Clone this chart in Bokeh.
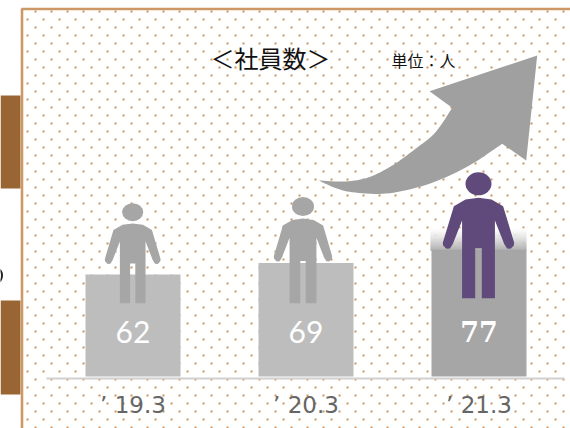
from bokeh.plotting import figure
from bokeh.models import Range1d, FixedTicker, Label
from bokeh.core.properties import value
from bokeh.embed import file_html
from bokeh.resources import INLINE
import numpy as np

# ---- data ----
periods = ["’ 19.3", "’ 20.3", "’ 21.3"]
staff = [62, 69, 77]
bar_colors = ["#bdbdbd", "#bdbdbd", "#a6a6a6"]
value_colors = ["#ffffff", "#ffffff", "#ffffff"]
title_text = "＜社員数＞"
unit_text = "単位：人"

# ---- page geometry: window pixel coordinates for the decoration ----
W, H = 570, 428
PX_L, PX_R, PX_T, PX_B = 0, 570, 0, 428
BASE_Y, PX_PER_PERSON = 376, 1.645
CENTER0, STEP, BAR_W = 132.5, 173, 95
xi = list(range(len(staff)))

p = figure(width=W, height=H, output_backend="svg", toolbar_location=None,
           x_range=Range1d((PX_L - CENTER0) / STEP, (PX_R - CENTER0) / STEP),
           y_range=Range1d((BASE_Y - PX_B) / PX_PER_PERSON, (BASE_Y - PX_T) / PX_PER_PERSON),
           min_border=0, outline_line_color=None, background_fill_color="white",
           border_fill_color="white")
p.extra_x_ranges["px"] = Range1d(PX_L, PX_R)
p.extra_y_ranges["px"] = Range1d(PX_B, PX_T)
PX = dict(x_range_name="px", y_range_name="px")
p.grid.visible = False
p.yaxis.visible = False

# left tabs and the clipped dark mark beside them
p.quad(left=[0, 0], right=[20, 20], top=[95, 300], bottom=[188, 394],
       fill_color="#996633", line_color=None, **PX)
p.ellipse(x=[-3], y=[275], width=9, height=13, fill_color=None, line_color="#222222",
          line_width=2, **PX)

# dotted paper
dx, dy = [], []
for k, y in enumerate(np.arange(11, 429, 8)):
    xs = np.arange(35 if k % 2 == 0 else 27, 570, 16)
    dx += list(xs)
    dy += [y] * len(xs)
p.rect(x=dx, y=dy, width=2, height=2, fill_color="#c8955c", line_color=None, **PX)

# frame
p.line(x=[21.5, 21.5, 570], y=[430, 8.5, 8.5], line_color="#cc9966", line_width=2.6, **PX)

# fade above the third bar
steps = 22
fade_top = 228
for i in range(steps):
    t = (i + 1) / steps
    g = int(255 - (255 - 166) * t ** 1.3)
    p.quad(left=[430], right=[526], top=[fade_top + i], bottom=[fade_top + i + 1.2],
           fill_color=f"#{g:02x}{g:02x}{g:02x}", line_color=None, **PX)

# bars
p.vbar(x=xi, top=staff, bottom=0, width=BAR_W / STEP, fill_color=bar_colors, line_color=None)

# axis (baseline with period labels)
ax = p.xaxis[0]
ax.fixed_location = -1
ax.bounds = ((46 - CENTER0) / STEP, (564 - CENTER0) / STEP)
ax.ticker = FixedTicker(ticks=xi)
ax.major_label_overrides = {i: s for i, s in zip(xi, periods)}
ax.major_tick_line_color = None
ax.minor_tick_line_color = None
ax.axis_line_color = "#d0d0d0"
ax.axis_line_width = 2
ax.major_label_text_font = "DejaVu Sans"
ax.major_label_text_font_size = "23px"
ax.major_label_text_color = "#666666"
ax.major_label_standoff = 8

# person silhouettes
half = [(0, 0), (-.364, .017), (-.69, .083), (-1.0, .447), (-.99, .475), (-.90, .508),
        (-.80, .505), (-.72, .46), (-.46, .226), (-.46, 1), (-.093, 1), (-.093, .502)]
outline = half + [(-a, b) for a, b in reversed(half)][:-1]
ox = np.array([a for a, b in outline])
oy = np.array([b for a, b in outline])
persons = [  # cx, body top, body bottom, half width, head cy, head rx, head ry, color
    (132.2, 223, 302.7, 27.9, 211.7, 10.5, 9.0, "#a6a6a6"),
    (302.5, 218, 302.7, 29.2, 206.0, 11.0, 9.5, "#a6a6a6"),
    (478.0, 197.3, 297.7, 35.7, 183.3, 13.0, 11.5, "#5f4a7b"),
]
for cx, top, bot, hw, hy, rx, ry, col in persons:
    p.patch(x=cx + ox * hw, y=top + oy * (bot - top), fill_color=col, line_color=None, **PX)
    p.ellipse(x=[cx], y=[hy], width=2 * rx, height=2 * ry, fill_color=col, line_color=None, **PX)


# growth arrow: straight head edges joined by smoothed body curves
def smooth(pts, n=8):
    pts = np.array(pts, dtype=float)
    q = np.vstack([pts[0], pts, pts[-1]])
    out = []
    for i in range(1, len(q) - 2):
        for t in np.linspace(0, 1, n, endpoint=False):
            out.append(0.5 * (2 * q[i] + (q[i + 1] - q[i - 1]) * t
                              + (2 * q[i - 1] - 5 * q[i] + 4 * q[i + 1] - q[i + 2]) * t ** 2
                              + (3 * q[i] - q[i - 1] - 3 * q[i + 1] + q[i + 2]) * t ** 3))
    out.append(pts[-1])
    return np.array(out)


lower_edge = [(501.7, 143.3), (471.7, 163.3), (441.7, 178.3), (411.7, 188.3),
              (381.7, 193.3), (351.7, 191.7), (335, 187.5), (318.3, 180)]
upper_edge = [(318.3, 180), (345, 181), (368.3, 176.7), (391.7, 165),
              (415, 148.3), (435, 131.7), (451.7, 107.3)]
body = np.vstack([smooth(lower_edge), smooth(upper_edge)])
ax_pts = np.vstack([[(536.7, 55), (525.7, 160)], body, [(429, 90.7)]])
p.patch(x=ax_pts[:, 0], y=ax_pts[:, 1], fill_color="#a0a0a0", line_color=None, **PX)

# value labels
for i, v in enumerate(staff):
    bold = i == 2
    p.add_layout(Label(x=i, y=331, text=str(v), text_align="center", text_baseline="middle",
                       text_color=value_colors[i], y_range_name="px",
                       text_font="DejaVu Serif" if bold else "Lato",
                       text_font_size="27px" if bold else "30px",
                       text_font_style="bold" if bold else "normal"))

# title and unit
p.text(x=[270], y=[57], text=[title_text], text_align="center", text_baseline="middle",
       text_color="#111111", text_font=value("Noto Sans CJK JP"), text_font_size="24px", **PX)
p.text(x=[423], y=[59], text=[unit_text], text_align="center", text_baseline="middle",
       text_color="#111111", text_font=value("Noto Sans CJK JP"), text_font_size="16px", **PX)

open("out.html", "w").write(file_html(p, INLINE))
